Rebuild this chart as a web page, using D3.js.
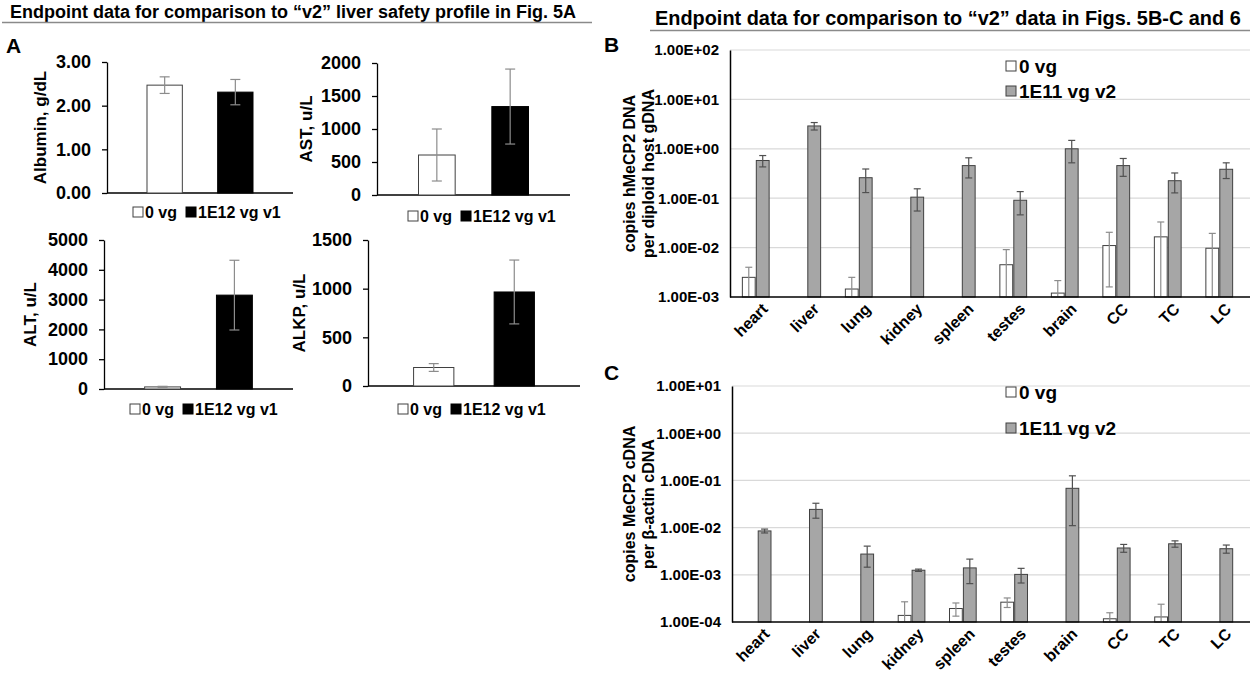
<!DOCTYPE html>
<html>
<head>
<meta charset="utf-8">
<script src="https://cdn.jsdelivr.net/npm/d3@7"></script>
<style>
  body { margin: 0; background: #fff; }
  text { font-family: "Liberation Sans", Arial, sans-serif; fill: #000; }
</style>
</head>
<body>
<svg id="chart" width="1250" height="677"></svg>
<script>
// ---- data ----
const groupsA = ["0 vg", "1E12 vg v1"]
const albuminMean = [2.47, 2.31]
const albuminErr = [0.19, 0.29]
const albuminTicks = [0, 1, 2, 3]
const astMean = [606, 1340]
const astErr = [394, 568]
const astTicks = [0, 500, 1000, 1500, 2000]
const altMean = [70, 3150]
const altErr = [20, 1170]
const altTicks = [0, 1000, 2000, 3000, 4000, 5000]
const alkpMean = [190, 966]
const alkpErr = [40, 328]
const alkpTicks = [0, 500, 1000, 1500]

const tissues = ["heart", "liver", "lung", "kidney", "spleen", "testes", "brain", "CC", "TC", "LC"]
const groupsB = ["0 vg", "1E11 vg v2"]
const dnaVehicle = [0.0025, null, 0.00145, null, null, 0.0045, 0.0012, 0.011, 0.0165, 0.0097]
const dnaVehicleErr = [0.0015, null, 0.00105, null, null, 0.0046, 0.00095, 0.0094, 0.0165, 0.0097]
const dnaTreated = [0.58, 2.9, 0.26, 0.105, 0.457, 0.091, 1.0, 0.457, 0.226, 0.385]
const dnaTreatedErr = [0.15, 0.5, 0.13, 0.05, 0.2, 0.045, 0.48, 0.18, 0.098, 0.135]
const dnaTicks = [1e-3, 1e-2, 1e-1, 1e0, 1e1, 1e2]
const dnaTickLabels = ["1.00E-03", "1.00E-02", "1.00E-01", "1.00E+00", "1.00E+01", "1.00E+02"]

const cdnaVehicle = [null, null, null, 0.000138, 0.000193, 0.000263, null, 0.000117, 0.000128, null]
const cdnaVehicleErr = [null, null, null, 0.00013, 0.00006, 0.00006, null, 0.00004, 0.00011, null]
const cdnaTreated = [0.0085, 0.0243, 0.00275, 0.00125, 0.0014, 0.00102, 0.068, 0.0037, 0.00454, 0.00357]
const cdnaTreatedErr = [0.0008, 0.0085, 0.0013, 0.00007, 0.00075, 0.00035, 0.057, 0.0007, 0.0007, 0.0007]
const cdnaTicks = [1e-4, 1e-3, 1e-2, 1e-1, 1e0, 1e1]
const cdnaTickLabels = ["1.00E-04", "1.00E-03", "1.00E-02", "1.00E-01", "1.00E+00", "1.00E+01"]

const svg = d3.select("#chart")

// ---- headers ----
svg.append("text").attr("x", 10).attr("y", 18)
  .style("font-weight", "bold").style("font-size", "18px")
  .text("Endpoint data for comparison to \u201cv2\u201d liver safety profile in Fig. 5A")
svg.append("line").attr("x1", 2).attr("x2", 592).attr("y1", 22.5).attr("y2", 22.5)
  .attr("stroke", "#8a8a8a").attr("stroke-width", 1.3)
svg.append("text").attr("x", 655).attr("y", 25)
  .style("font-weight", "bold").style("font-size", "19.9px")
  .text("Endpoint data for comparison to \u201cv2\u201d data in Figs. 5B-C and 6")
svg.append("line").attr("x1", 650).attr("x2", 1250).attr("y1", 30.5).attr("y2", 30.5)
  .attr("stroke", "#8a8a8a").attr("stroke-width", 1.3)

const panelLetter = (x, y, t) => svg.append("text").attr("x", x).attr("y", y)
  .style("font-weight", "bold").style("font-size", "21px").text(t)
panelLetter(6, 53, "A")
panelLetter(604, 52, "B")
panelLetter(604, 380, "C")

// ---- panel A: linear bar charts ----
function drawLinearChart(cfg) {
  const y = d3.scaleLinear().domain([0, d3.max(cfg.ticks)]).range([cfg.bottom, cfg.top])
  const x = d3.scaleBand().domain(groupsA).range([cfg.left, cfg.right])
    .paddingInner(0.5).paddingOuter(0.566)
  const g = svg.append("g")

  const yAxis = g.append("g").attr("transform", `translate(${cfg.left},0)`)
    .call(d3.axisLeft(y).tickValues(cfg.ticks).tickFormat(cfg.fmt).tickSize(5).tickSizeOuter(0).tickPadding(11))
  yAxis.selectAll("path, line").attr("stroke", "#000").attr("stroke-width", 1.3)
  yAxis.selectAll("text").style("font-size", "18px").style("font-weight", "bold").style("font-family", "Liberation Sans, Arial, sans-serif")

  g.append("line").attr("x1", cfg.left).attr("x2", cfg.right)
    .attr("y1", cfg.bottom).attr("y2", cfg.bottom).attr("stroke", "#000").attr("stroke-width", 1.5)

  g.selectAll(".bar").data(groupsA).join("rect")
    .attr("x", d => x(d)).attr("width", x.bandwidth())
    .attr("y", (d, i) => y(cfg.mean[i]))
    .attr("height", (d, i) => cfg.bottom - y(cfg.mean[i]))
    .attr("fill", (d, i) => i ? "#000" : "#fff")
    .attr("stroke", (d, i) => i ? "#000" : "#404040").attr("stroke-width", 1)

  groupsA.forEach((d, i) => {
    const cx = x(d) + x.bandwidth() / 2
    const hi = y(cfg.mean[i] + cfg.err[i]), lo = y(Math.max(0, cfg.mean[i] - cfg.err[i]))
    g.append("line").attr("x1", cx).attr("x2", cx).attr("y1", hi).attr("y2", lo)
      .attr("stroke", "#8c8c8c").attr("stroke-width", 1.2)
    ;[hi, lo].forEach(v => g.append("line").attr("x1", cx - 5).attr("x2", cx + 5)
      .attr("y1", v).attr("y2", v).attr("stroke", "#8c8c8c").attr("stroke-width", 1.2))
  })

  g.append("text").attr("transform", `translate(${cfg.labelX},${(cfg.top + cfg.bottom) / 2}) rotate(-90)`)
    .attr("text-anchor", "middle").attr("dy", "0.35em")
    .style("font-weight", "bold").style("font-size", "17px").text(cfg.label)

  // legend
  const lg = g.append("g").attr("transform", `translate(${cfg.legendX},${cfg.legendY})`)
  let cursor = 0
  groupsA.forEach((name, i) => {
    lg.append("rect").attr("x", cursor).attr("y", -5).attr("width", 10).attr("height", 10)
      .attr("fill", i ? "#000" : "#fff").attr("stroke", i ? "#000" : "#404040")
    const t = lg.append("text").attr("x", cursor + 12).attr("dy", "0.35em")
      .style("font-weight", "bold").style("font-size", "16px").text(name)
    cursor += 12 + t.node().getComputedTextLength() + 9
  })
}

drawLinearChart({ left: 107, right: 293, top: 62, bottom: 193, ticks: albuminTicks, fmt: d3.format(".2f"),
  mean: albuminMean, err: albuminErr, label: "Albumin, g/dL", labelX: 40, legendX: 133, legendY: 212 })
drawLinearChart({ left: 377, right: 570, top: 63, bottom: 195, ticks: astTicks, fmt: d3.format("d"),
  mean: astMean, err: astErr, label: "AST, u/L", labelX: 306, legendX: 408, legendY: 216 })
drawLinearChart({ left: 104, right: 293, top: 240, bottom: 389, ticks: altTicks, fmt: d3.format("d"),
  mean: altMean, err: altErr, label: "ALT, u/L", labelX: 30, legendX: 130, legendY: 409 })
drawLinearChart({ left: 368, right: 580, top: 240, bottom: 386, ticks: alkpTicks, fmt: d3.format("d"),
  mean: alkpMean, err: alkpErr, label: "ALKP, u/L", labelX: 299, legendX: 398, legendY: 409 })

// ---- panels B and C: log bar charts ----
function drawLogChart(cfg) {
  const y = d3.scaleLog().domain([cfg.ticks[0], cfg.ticks[cfg.ticks.length - 1]]).range([cfg.bottom, cfg.top])
  const x = d3.scaleBand().domain(tissues).range([cfg.left, cfg.right])
  const xs = d3.scaleBand().domain(groupsB).range([x.bandwidth() * 0.24, x.bandwidth() * 0.76]).paddingInner(0.08)
  const g = svg.append("g")

  g.selectAll(".grid").data(cfg.ticks.slice(1)).join("line")
    .attr("x1", cfg.left).attr("x2", cfg.right + 5)
    .attr("y1", d => y(d)).attr("y2", d => y(d))
    .attr("stroke", "#d9d9d9").attr("stroke-width", 1.2)

  const yAxis = g.append("g").attr("transform", `translate(${cfg.left},0)`)
    .call(d3.axisLeft(y).tickValues(cfg.ticks).tickFormat((d, i) => cfg.tickLabels[i]).tickSize(0).tickPadding(11))
  yAxis.select("path").attr("stroke", "#000").attr("stroke-width", 1.5)
  yAxis.selectAll("text").style("font-size", "15px").style("font-weight", "bold").style("font-family", "Liberation Sans, Arial, sans-serif")

  const series = [
    { vals: cfg.vehicle, errs: cfg.vehicleErr, fill: "#fff", err: "#8c8c8c" },
    { vals: cfg.treated, errs: cfg.treatedErr, fill: "#a6a6a6", err: "#505050" }
  ]
  series.forEach((s, si) => {
    tissues.forEach((t, i) => {
      const v = s.vals[i]
      if (v == null) return
      const bx = x(t) + xs(groupsB[si])
      g.append("rect").attr("x", bx).attr("width", xs.bandwidth())
        .attr("y", y(v)).attr("height", cfg.bottom - y(v))
        .attr("fill", s.fill).attr("stroke", "#404040").attr("stroke-width", 1)
      const cx = bx + xs.bandwidth() / 2
      const e = s.errs[i]
      const hi = y(v + e)
      const lowVal = v - e
      const lo = lowVal > cfg.ticks[0] ? y(lowVal) : cfg.bottom
      g.append("line").attr("x1", cx).attr("x2", cx).attr("y1", hi).attr("y2", lo)
        .attr("stroke", s.err).attr("stroke-width", 1.2)
      g.append("line").attr("x1", cx - 3.5).attr("x2", cx + 3.5).attr("y1", hi).attr("y2", hi)
        .attr("stroke", s.err).attr("stroke-width", 1.2)
      if (lowVal > cfg.ticks[0]) {
        g.append("line").attr("x1", cx - 3.5).attr("x2", cx + 3.5).attr("y1", lo).attr("y2", lo)
          .attr("stroke", s.err).attr("stroke-width", 1.2)
      }
    })
  })

  g.append("line").attr("x1", cfg.left).attr("x2", cfg.right + 5)
    .attr("y1", cfg.bottom).attr("y2", cfg.bottom).attr("stroke", "#000").attr("stroke-width", 1.5)

  // rotated category labels
  const cats = g.selectAll(".cat").data(tissues).join("g")
    .attr("transform", d => `translate(${x(d) + x.bandwidth() / 2 + 9},${cfg.bottom + 9})`)
  cats.append("text")
    .attr("transform", "rotate(-45)")
    .attr("text-anchor", "end").attr("dy", "0.35em")
    .style("font-weight", "bold").style("font-size", "16px").text(d => d)

  cfg.label.forEach((line, i) => {
    g.append("text").attr("transform", `translate(${cfg.labelX[i]},${(cfg.top + cfg.bottom) / 2}) rotate(-90)`)
      .attr("text-anchor", "middle").attr("dy", "0.35em")
      .style("font-weight", "bold").style("font-size", "16px").text(line)
  })

  groupsB.forEach((name, i) => {
    g.append("rect").attr("x", cfg.legendX).attr("y", cfg.legendY[i] - 5).attr("width", 10).attr("height", 10)
      .attr("fill", series[i].fill).attr("stroke", "#404040")
    g.append("text").attr("x", cfg.legendX + 13).attr("y", cfg.legendY[i]).attr("dy", "0.35em")
      .style("font-weight", "bold").style("font-size", "19px").text(name)
  })
}

drawLogChart({ left: 730, right: 1245, top: 50, bottom: 297, ticks: dnaTicks, tickLabels: dnaTickLabels,
  vehicle: dnaVehicle, vehicleErr: dnaVehicleErr, treated: dnaTreated, treatedErr: dnaTreatedErr,
  label: ["copies hMeCP2 DNA", "per diploid host gDNA"], labelX: [629, 648],
  legendX: 1006, legendY: [66, 91] })
drawLogChart({ left: 732, right: 1245, top: 386, bottom: 622, ticks: cdnaTicks, tickLabels: cdnaTickLabels,
  vehicle: cdnaVehicle, vehicleErr: cdnaVehicleErr, treated: cdnaTreated, treatedErr: cdnaTreatedErr,
  label: ["copies MeCP2 cDNA", "per \u03b2-actin cDNA"], labelX: [629, 648],
  legendX: 1006, legendY: [392, 428] })
</script>
</body>
</html>
